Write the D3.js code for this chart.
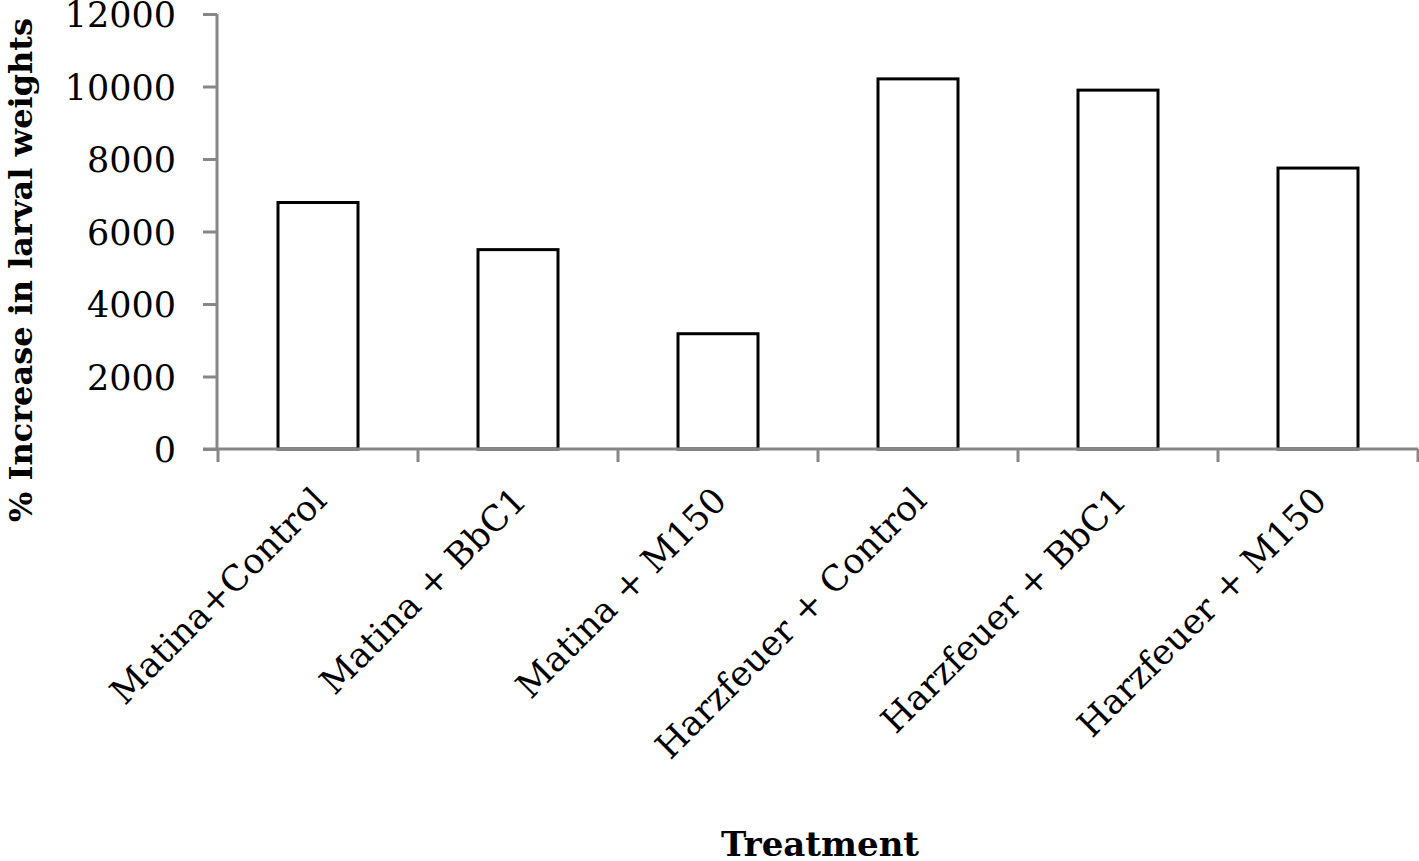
<!DOCTYPE html>
<html>
<head>
<meta charset="utf-8">
<script src="https://cdn.jsdelivr.net/npm/d3@7"></script>
<style>
  html, body { margin: 0; padding: 0; background: #fff; }
  svg { display: block; }
</style>
</head>
<body>
<svg id="chart" width="1419" height="861"></svg>
<script>
const categories = ["Matina+Control", "Matina + BbC1", "Matina + M150", "Harzfeuer + Control", "Harzfeuer + BbC1", "Harzfeuer + M150"];
const values = [6800, 5500, 3180, 10210, 9900, 7750];
const yTicks = [0, 2000, 4000, 6000, 8000, 10000, 12000];
const yTitle = "% Increase in larval weights";
const xTitle = "Treatment";

const svg = d3.select("#chart");
const axisColor = "#878787";
const font = "'DejaVu Serif', serif";

const x0 = 218, x1 = 1418, yBottom = 449, yTop = 14;

const x = d3.scaleBand().domain(categories).range([x0, x1]).paddingInner(0.6).paddingOuter(0.3);
const xb = d3.scaleBand().domain(categories).range([x0, x1]);
const y = d3.scaleLinear().domain([0, 12000]).range([yBottom, yTop]);

// Y axis
const yAxis = svg.append("g").attr("transform", `translate(${x0 - 1},0)`)
  .call(d3.axisLeft(y).tickValues(yTicks).tickSize(14).tickPadding(27).tickFormat(d3.format("d")));
yAxis.select(".domain").attr("stroke", axisColor).attr("stroke-width", 3).attr("d", `M0,${yTop}V${yBottom}`);
yAxis.selectAll(".tick line").attr("stroke", axisColor).attr("stroke-width", 3);
yAxis.selectAll(".tick text").attr("font-family", font).attr("font-size", 35).attr("fill", "#000").attr("dy", "0.37em");

// Bars
svg.append("g").selectAll("rect").data(categories).join("rect")
  .attr("x", d => x(d))
  .attr("width", x.bandwidth())
  .attr("y", (d, i) => y(values[i]))
  .attr("height", (d, i) => y(0) - y(values[i]))
  .attr("fill", "#fff")
  .attr("stroke", "#000")
  .attr("stroke-width", 3);

// X axis line and ticks
const xAxisG = svg.append("g");
xAxisG.append("line").attr("x1", 203).attr("x2", x1).attr("y1", yBottom).attr("y2", yBottom)
  .attr("stroke", axisColor).attr("stroke-width", 3);
const tickPos = categories.map(c => xb(c)).concat([x1]);
xAxisG.selectAll("line.tk").data(tickPos).join("line").attr("class", "tk")
  .attr("x1", d => d).attr("x2", d => d).attr("y1", yBottom).attr("y2", yBottom + 13)
  .attr("stroke", axisColor).attr("stroke-width", 3);

// X tick labels
svg.append("g").selectAll("text").data(categories).join("text")
  .attr("transform", d => `translate(${xb(d) + xb.bandwidth() / 2 + 3},${yBottom + 46}) rotate(-45)`)
  .attr("text-anchor", "end")
  .attr("dy", "0.3em")
  .attr("font-family", font)
  .attr("font-size", 35)
  .attr("fill", "#000")
  .text(d => d);

// Titles
svg.append("text")
  .attr("transform", `translate(32,270) rotate(-90)`)
  .attr("text-anchor", "middle")
  .attr("font-family", font).attr("font-weight", "bold").attr("font-size", 32)
  .text(yTitle);

svg.append("text")
  .attr("x", 820).attr("y", 856)
  .attr("text-anchor", "middle")
  .attr("font-family", font).attr("font-weight", "bold").attr("font-size", 34)
  .text(xTitle);
</script>
</body>
</html>
